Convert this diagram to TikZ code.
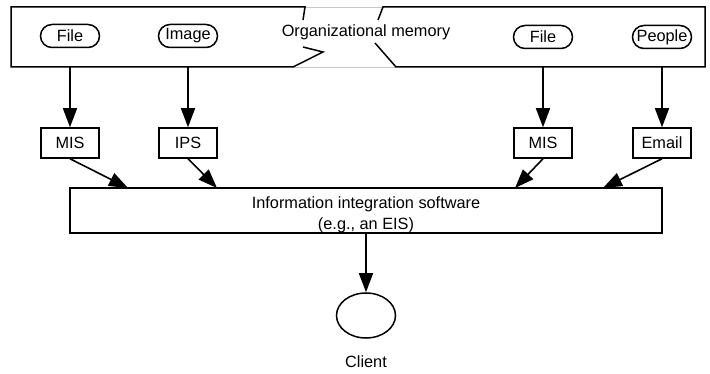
\documentclass[tikz,border=0pt]{standalone}
\usepackage{fontspec}
\setmainfont{Liberation Sans}
\usetikzlibrary{shapes.geometric,arrows.meta}
\begin{document}
\begin{tikzpicture}[x=1pt,y=-1pt,
  every node/.style={font=\fontsize{16.3}{21.5}\selectfont, inner sep=0pt},
  outline/.style={line width=1.5pt, black},
  srcbox/.style={draw, line width=1.5pt, rounded corners=11.5pt, minimum width=59pt, minimum height=23pt},
  sysbox/.style={draw, line width=1.5pt, minimum width=58pt, minimum height=30pt},
  arr/.style={line width=1.6pt, -{Triangle[length=19pt,width=14pt]}}]
\useasboundingbox (0,0) rectangle (710,374);

% organizational memory band, broken in the middle
\draw[gray!45, line width=0.7pt] (305,7) -- (383,7) (293,67) -- (396,67);
\draw[outline, line join=miter] (303,20) -- (305,7) -- (11,7) -- (11,67) -- (293,67) -- (323,52) -- (303,47);
\draw[outline, line join=miter] (378,20) -- (383,7) -- (705,7) -- (705,67) -- (396,67) -- (375,43);
\node (orgmem) at (366,32.5) {Organizational memory};

% sources held in the memory
\node[srcbox] (file1) at (70,36) {File};
\node[srcbox] (image) at (188,36) {Image};
\node[srcbox] (file2) at (543,37) {File};
\node[srcbox] (people) at (662,37) {People};

% exit points on the band's lower edge
\coordinate (out1) at (70,67);
\coordinate (out2) at (188,67);
\coordinate (out3) at (543,67);
\coordinate (out4) at (662,67);

% access systems
\node[sysbox] (mis1) at (70,143) {MIS};
\node[sysbox] (ips) at (188,143) {IPS};
\node[sysbox] (mis2) at (543,143) {MIS};
\node[sysbox] (email) at (662,143) {Email};

% integration layer
\node[draw, line width=1.5pt, minimum width=592pt, minimum height=45pt] (info) at (366,210.5) {};
\node[align=center] (infotext) at (366,215) {Information integration software\\(e.g., an EIS)};
\coordinate (in1) at (128,188);
\coordinate (in2) at (217,188);
\coordinate (in3) at (515,188);
\coordinate (in4) at (603,188);

% client
\node[draw, ellipse, line width=1.5pt, minimum width=59pt, minimum height=45pt] (client) at (366,315.5) {};
\node (clientlabel) at (366,362) {Client};

\draw[arr] (out1) -- (mis1.north);
\draw[arr] (out2) -- (ips.north);
\draw[arr] (out3) -- (mis2.north);
\draw[arr] (out4) -- (email.north);
\draw[arr] (mis1.south) -- (in1);
\draw[arr] (ips.south) -- (in2);
\draw[arr] (mis2.south) -- (in3);
\draw[arr] (email.south) -- (in4);
\draw[arr] (info.south) -- (client.north);
\end{tikzpicture}
\end{document}
